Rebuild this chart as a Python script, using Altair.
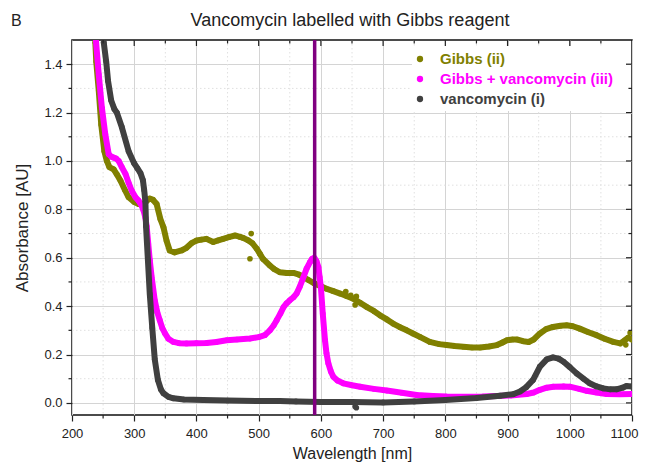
import altair as alt
import pandas as pd

# ---------------- data ----------------
series_names = ["Gibbs (ii)", "Gibbs + vancomycin (iii)", "vancomycin (i)"]
series_colors = ["#808000", "#FF00FF", "#404040"]
chart_title = "Vancomycin labelled with Gibbs reagent"
panel_tag = "B"

gibbs_wl = [237.5, 239, 243, 247, 252, 256, 260, 267, 272, 278, 285, 291, 300, 307, 315, 320,
            325, 330, 336, 342, 347, 352, 357, 365, 376, 384, 392, 400, 408, 416, 427, 435, 443,
            452, 462, 470, 475, 483, 490, 497, 502, 507, 518, 525, 534, 545, 556, 565, 572, 580,
            590, 600, 609, 620, 631, 641, 652, 663, 674, 685, 695, 706, 716, 727, 738, 748, 759,
            775, 790, 802, 815, 829, 843, 856, 870, 883, 892, 899, 908, 915, 925, 934, 942, 952,
            962, 973, 985, 995, 1005, 1016, 1030, 1043, 1056, 1070, 1081, 1088, 1094, 1100]
gibbs_abs = [1.49, 1.41, 1.29, 1.15, 1.04, 1.0, 0.975, 0.965, 0.945, 0.918, 0.88, 0.85, 0.83,
             0.822, 0.822, 0.835, 0.845, 0.84, 0.822, 0.76, 0.726, 0.67, 0.63, 0.622, 0.63, 0.641,
             0.66, 0.671, 0.675, 0.678, 0.665, 0.672, 0.678, 0.685, 0.692, 0.686, 0.682, 0.672,
             0.66, 0.637, 0.616, 0.595, 0.568, 0.553, 0.54, 0.537, 0.537, 0.53, 0.52, 0.508,
             0.493, 0.482, 0.472, 0.462, 0.452, 0.442, 0.431, 0.414, 0.396, 0.38, 0.362, 0.345,
             0.328, 0.313, 0.30, 0.287, 0.273, 0.252, 0.243, 0.239, 0.235, 0.232, 0.229, 0.229,
             0.233, 0.239, 0.25, 0.259, 0.262, 0.262, 0.255, 0.252, 0.262, 0.287, 0.305, 0.314,
             0.319, 0.321, 0.317, 0.307, 0.292, 0.28, 0.265, 0.252, 0.246, 0.258, 0.27, 0.262]

mix_wl = [238.6, 243, 248, 253.5, 259, 263, 267, 271, 275, 280, 286, 291, 296, 302, 307, 312,
          315, 318, 320, 322.6, 325, 328, 333, 337, 341, 345, 349.5, 355, 363, 372, 384, 400, 416.5,
          432, 448.6, 465, 486, 500, 510, 518, 524, 529, 535, 540, 545, 550, 556, 561, 566, 572,
          577, 582.5, 586, 589.5, 593, 596, 598, 600, 603, 606.6, 609, 612, 616, 620, 627, 636,
          650, 663, 685, 706, 730, 754, 780, 802, 830, 860, 883, 905, 931, 942, 952, 963, 973.5,
          990, 1000, 1015, 1027, 1043, 1059, 1080, 1100]
mix_abs = [1.494, 1.357, 1.22, 1.11, 1.028, 1.018, 1.014, 1.01, 1.0, 0.975, 0.946, 0.91, 0.877,
           0.85, 0.836, 0.815, 0.795, 0.765, 0.73, 0.657, 0.59, 0.52, 0.424, 0.375, 0.342, 0.31,
           0.287, 0.265, 0.252, 0.247, 0.246, 0.247, 0.248, 0.252, 0.259, 0.262, 0.266, 0.272,
           0.28, 0.30, 0.32, 0.342, 0.37, 0.396, 0.412, 0.424, 0.437, 0.452, 0.48, 0.52, 0.555,
           0.582, 0.596, 0.60, 0.585, 0.561, 0.52, 0.479, 0.369, 0.259, 0.205, 0.163, 0.13, 0.108,
           0.092, 0.081, 0.073, 0.067, 0.058, 0.051, 0.042, 0.033, 0.029, 0.026, 0.025, 0.026,
           0.029, 0.031, 0.037, 0.043, 0.054, 0.063, 0.067, 0.068, 0.067, 0.058, 0.05, 0.043,
           0.037, 0.036, 0.037]

vanco_wl = [251, 255, 258, 263, 268, 272, 280, 291, 300, 305, 310, 314, 316, 318, 319, 322,
            325, 329, 333, 338, 343, 347, 355, 363, 380, 411, 450, 500, 534, 560, 600, 650, 700,
            750, 800, 850, 888, 909, 920, 930, 941, 952, 963, 973, 982, 990, 1000, 1011, 1022,
            1032, 1043, 1054, 1065, 1075, 1085, 1091, 1100]
vanco_abs = [1.49, 1.41, 1.33, 1.25, 1.215, 1.20, 1.14, 1.04, 0.99, 0.97, 0.95, 0.92, 0.88,
             0.83, 0.73, 0.59, 0.45, 0.31, 0.18, 0.095, 0.055, 0.04, 0.025, 0.019, 0.014, 0.012,
             0.010, 0.008, 0.008, 0.006, 0.004, 0.004, 0.002, 0.006, 0.012, 0.020, 0.030, 0.036,
             0.047, 0.065, 0.095, 0.15, 0.18, 0.188, 0.183, 0.17, 0.148, 0.122, 0.10, 0.081,
             0.068, 0.06, 0.056, 0.056, 0.063, 0.07, 0.068]

# stray (noisy) points
gibbs_out_wl = [486, 488, 640, 648, 655, 657, 1090, 1097]
gibbs_out_abs = [0.596, 0.70, 0.46, 0.445, 0.405, 0.44, 0.24, 0.29]
vanco_out_wl = [655, 657]
vanco_out_abs = [-0.015, -0.02]

marker_wl = [590]

x_major = list(range(200, 1101, 100))
x_minor = list(range(250, 1100, 100))
y_major = [0.0, 0.2, 0.4, 0.6, 0.8, 1.0, 1.2, 1.4]
y_minor = [0.1, 0.3, 0.5, 0.7, 0.9, 1.1, 1.3]
x_major_inner = x_major[1:-1]

FONT = "Liberation Sans"
TXT = "#222222"
W, H = 560, 375

xscale = alt.Scale(domain=[200, 1100], nice=False, zero=False)
yscale = alt.Scale(domain=[-0.05, 1.5], nice=False, zero=False)
cscale = alt.Scale(domain=series_names, range=series_colors)

last_x = "datum.value === %d" % x_major[-1]
xaxis = alt.Axis(
    title="Wavelength [nm]", values=x_major, format="d", titleFontSize=16, titleFontWeight="normal",
    labelFontSize=13, labelFont=FONT, titleFont=FONT, labelColor=TXT, titleColor=TXT,
    labelPadding=6, titlePadding=5, tickSize=6, tickColor=TXT, tickWidth=1.2,
    domain=False, grid=True, gridColor="#d4d4d4", gridWidth=1, labelFlush=False,
    labelAlign={"condition": {"test": last_x, "value": "right"}, "value": "center"},
    labelOffset={"condition": {"test": last_x, "value": 6}, "value": 0},
)
yaxis = alt.Axis(
    title="Absorbance [AU]", values=y_major, titleFontSize=17, titleFontWeight="normal",
    labelFontSize=13, labelFont=FONT, titleFont=FONT, labelColor=TXT, titleColor=TXT,
    format=".1f", labelPadding=4, titlePadding=12, tickSize=6, tickColor=TXT, tickWidth=1.2,
    domain=False, grid=True, gridColor="#d4d4d4", gridWidth=1, labelFlush=False,
)


def frame(wl, ab, name):
    return pd.DataFrame({"wl": wl, "abs": ab, "series": [name] * len(wl)})


series_frames = [
    frame(gibbs_wl, gibbs_abs, series_names[0]),
    frame(mix_wl, mix_abs, series_names[1]),
    frame(vanco_wl, vanco_abs, series_names[2]),
]
outlier_frames = [
    frame(gibbs_out_wl, gibbs_out_abs, series_names[0]),
    frame([], [], series_names[1]),
    frame(vanco_out_wl, vanco_out_abs, series_names[2]),
]

# other layers leave the axis unspecified, so the explicit axes of the base layer win
X = lambda f: alt.X(f, type="quantitative", scale=xscale)
Y = lambda f: alt.Y(f, type="quantitative", scale=yscale)
C = alt.Color("series:N", scale=cscale, legend=None)

layers = []
base = alt.Chart(series_frames[0]).mark_point(opacity=0).encode(
    x=alt.X("wl:Q", scale=xscale, axis=xaxis),
    y=alt.Y("abs:Q", scale=yscale, axis=yaxis),
)
layers.append(base)

# minor grid (dotted)
layers.append(alt.Chart(pd.DataFrame({"v": x_minor})).mark_rule(
    color="#e0e0e0", strokeWidth=1, strokeDash=[1.5, 2.5]).encode(
    x=X("v"), y=alt.value(0), y2=alt.value(H)))
layers.append(alt.Chart(pd.DataFrame({"v": y_minor})).mark_rule(
    color="#e0e0e0", strokeWidth=1, strokeDash=[1.5, 2.5]).encode(
    y=Y("v"), x=alt.value(0), x2=alt.value(W)))

for sdf, odf in zip(series_frames, outlier_frames):
    layers.append(alt.Chart(sdf).mark_line(strokeWidth=6, strokeCap="round", strokeJoin="round",
                                           clip=True).encode(
        x=X("wl"), y=Y("abs"), color=C, order="wl:Q"))
    layers.append(alt.Chart(sdf).mark_circle(size=32, opacity=1, clip=True).encode(
        x=X("wl"), y=Y("abs"), color=C))
    if len(odf):
        layers.append(alt.Chart(odf).mark_circle(size=32, opacity=1, clip=True).encode(
            x=X("wl"), y=Y("abs"), color=C))

layers.append(alt.Chart(pd.DataFrame({"wl": marker_wl})).mark_rule(
    color="#800080", strokeWidth=3.5).encode(x=X("wl")))

# ticks: minor outward (bottom/left), inward on top/right
tick = dict(color=TXT, strokeWidth=1.2)
layers.append(alt.Chart(pd.DataFrame({"v": x_minor})).mark_rule(**tick).encode(
    x=X("v"), y=alt.value(H), y2=alt.value(H + 3.5)))
layers.append(alt.Chart(pd.DataFrame({"v": y_minor})).mark_rule(**tick).encode(
    y=Y("v"), x=alt.value(0), x2=alt.value(-3.5)))
layers.append(alt.Chart(pd.DataFrame({"v": x_major_inner})).mark_rule(**tick).encode(
    x=X("v"), y=alt.value(0), y2=alt.value(6)))
layers.append(alt.Chart(pd.DataFrame({"v": x_minor})).mark_rule(**tick).encode(
    x=X("v"), y=alt.value(0), y2=alt.value(3.5)))
layers.append(alt.Chart(pd.DataFrame({"v": y_major})).mark_rule(**tick).encode(
    y=Y("v"), x=alt.value(W), x2=alt.value(W - 6)))
layers.append(alt.Chart(pd.DataFrame({"v": y_minor})).mark_rule(**tick).encode(
    y=Y("v"), x=alt.value(W), x2=alt.value(W - 3.5)))

# legend (white box, symbols and coloured bold labels)
LX, LY, ROW = 348, 19, 20
layers.append(alt.Chart(pd.DataFrame({"a": [0]})).mark_rect(color="white").encode(
    x=alt.value(LX - 8), x2=alt.value(LX + 206), y=alt.value(LY - 13), y2=alt.value(LY + 2 * ROW + 12)))
for i, (name, col) in enumerate(zip(series_names, series_colors)):
    d = pd.DataFrame({"series": [name]})
    layers.append(alt.Chart(d).mark_circle(size=40, opacity=1, color=col).encode(
        x=alt.value(LX), y=alt.value(LY + i * ROW)))
    layers.append(alt.Chart(d).mark_text(fontSize=15, fontWeight="bold", font=FONT, color=col,
                                         align="left", baseline="middle").encode(
        text="series:N", x=alt.value(LX + 20), y=alt.value(LY + i * ROW)))

# title and panel tag
layers.append(alt.Chart(pd.DataFrame({"t": [chart_title]})).mark_text(
    fontSize=18, font=FONT, color=TXT, align="center", baseline="middle").encode(
    text="t:N", x=alt.value(W / 2 - 2), y=alt.value(-19)))
layers.append(alt.Chart(pd.DataFrame({"t": [panel_tag]})).mark_text(
    fontSize=16, font=FONT, color=TXT, align="left", baseline="middle").encode(
    text="t:N", x=alt.value(-61), y=alt.value(-19)))

chart = alt.layer(*layers).properties(
    width=W, height=H,
    autosize=alt.AutoSizeParams(type="none"),
    padding={"left": 64, "top": 32, "right": 8, "bottom": 47},
).configure_view(stroke="#111", strokeWidth=1.5).configure_axis(labelFont=FONT, titleFont=FONT)

chart.save("out.html", embed_options={"renderer": "svg", "actions": False})
